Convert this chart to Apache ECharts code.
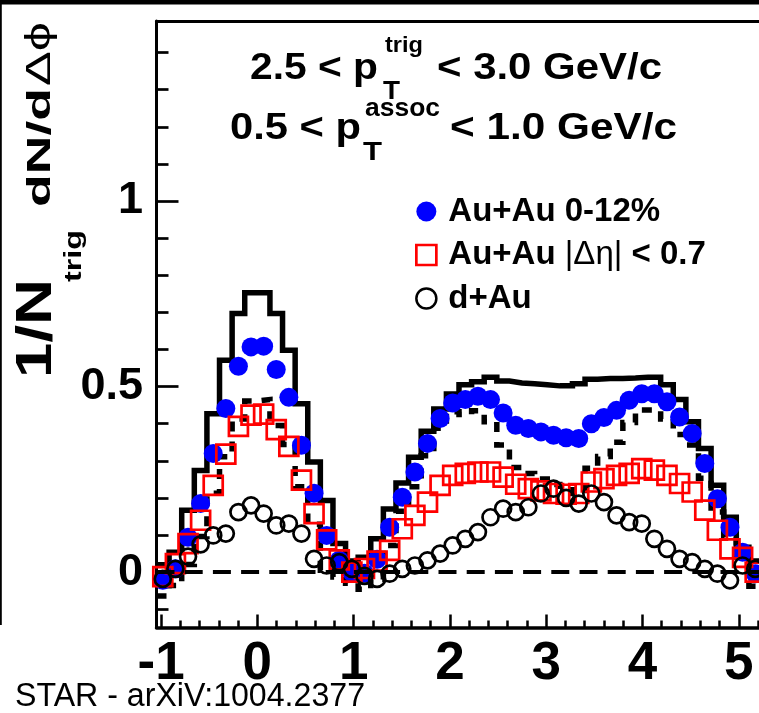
<!DOCTYPE html>
<html>
<head>
<meta charset="utf-8">
<title>Di-hadron correlations, 2.5 &lt; pT(trig) &lt; 3.0 GeV/c</title>
<script src="https://cdn.jsdelivr.net/npm/echarts@6/dist/echarts.min.js"></script>
<style>
  html, body { margin: 0; padding: 0; background: #fff; }
  #chart { width: 759px; height: 713px; }
</style>
</head>
<body>
<div id="chart"></div>
<script>
// Δφ binning: 48 bins covering [-π/3, 5π/3)
const PHI_MIN = -Math.PI / 3;
const PHI_MAX = 5 * Math.PI / 3;
const N_BINS = 48;
const binWidth = (PHI_MAX - PHI_MIN) / N_BINS;
const binCenters = Array.from({ length: N_BINS }, (_, i) => PHI_MIN + (i + 0.5) * binWidth);
const binEdges = Array.from({ length: N_BINS + 1 }, (_, i) => PHI_MIN + i * binWidth);

const seriesNames = ['Au+Au 0-12%', 'Au+Au |Δη| < 0.7', 'd+Au'];

// Au+Au 0-12%, full Δη acceptance
const auAuCentral = [
  -0.022, 0.009, 0.094, 0.185, 0.320, 0.441, 0.555, 0.607, 0.609, 0.546, 0.471, 0.342, 0.213, 0.099, 0.032, 0.000,
  -0.003, 0.035, 0.121, 0.202, 0.270, 0.347, 0.414, 0.456, 0.465, 0.474, 0.465, 0.429, 0.396, 0.387, 0.378, 0.369,
  0.362, 0.360, 0.400, 0.417, 0.436, 0.463, 0.481, 0.481, 0.459, 0.418, 0.374, 0.293, 0.198, 0.121, 0.054, -0.004
];

// Au+Au 0-12%, |Δη| < 0.7
const auAuNearEta = [
  -0.012, 0.023, 0.077, 0.140, 0.234, 0.318, 0.393, 0.423, 0.426, 0.384, 0.339, 0.248, 0.158, 0.087, 0.033, 0.000,
  0.010, 0.030, 0.059, 0.117, 0.153, 0.189, 0.234, 0.261, 0.266, 0.270, 0.270, 0.256, 0.237, 0.225, 0.219, 0.212,
  0.210, 0.212, 0.243, 0.252, 0.261, 0.266, 0.279, 0.275, 0.261, 0.239, 0.216, 0.167, 0.113, 0.063, 0.040, 0.000
];

// d+Au reference
const dAu = [
  -0.018, 0.009, 0.042, 0.075, 0.099, 0.104, 0.162, 0.180, 0.158, 0.126, 0.131, 0.104, 0.036, 0.018, 0.027, 0.009,
  -0.010, -0.018, -0.004, 0.009, 0.018, 0.032, 0.050, 0.072, 0.090, 0.108, 0.148, 0.171, 0.162, 0.175, 0.212, 0.225,
  0.200, 0.185, 0.212, 0.189, 0.153, 0.135, 0.131, 0.090, 0.063, 0.036, 0.027, 0.009, -0.004, -0.022, 0.018, 0.009
];

// Systematic band of the Au+Au 0-12% points (flow subtraction): upper and lower edges
const sysUpper = [
  0.020, 0.054, 0.167, 0.274, 0.427, 0.571, 0.697, 0.753, 0.753, 0.697, 0.598, 0.454, 0.297, 0.193, 0.077, 0.030,
  0.040, 0.090, 0.170, 0.240, 0.310, 0.380, 0.440, 0.480, 0.505, 0.513, 0.525, 0.515, 0.510, 0.508, 0.505, 0.502,
  0.502, 0.508, 0.520, 0.522, 0.522, 0.523, 0.525, 0.525, 0.505, 0.465, 0.405, 0.333, 0.234, 0.148, 0.067, 0.030
];
const sysLower = [
  -0.064, -0.036, 0.021, 0.096, 0.213, 0.311, 0.413, 0.461, 0.465, 0.395, 0.344, 0.230, 0.129, 0.005, -0.013, -0.030,
  -0.046, -0.020, 0.072, 0.164, 0.230, 0.314, 0.388, 0.432, 0.425, 0.435, 0.405, 0.343, 0.282, 0.266, 0.251, 0.236,
  0.222, 0.212, 0.280, 0.312, 0.350, 0.403, 0.437, 0.437, 0.413, 0.371, 0.343, 0.253, 0.162, 0.094, 0.041, -0.038
];

// Axis ticks
const xMajorTicks = [-1, 0, 1, 2, 3, 4, 5];
const xMinorTicks = [-0.8, -0.6, -0.4, -0.2, 0.2, 0.4, 0.6, 0.8, 1.2, 1.4, 1.6, 1.8, 2.2, 2.4, 2.6, 2.8,
  3.2, 3.4, 3.6, 3.8, 4.2, 4.4, 4.6, 4.8, 5.2];
const yMajorTicks = [0, 0.5, 1];
const yMinorTicks = [-0.1, 0.1, 0.2, 0.3, 0.4, 0.6, 0.7, 0.8, 0.9, 1.1, 1.2, 1.3, 1.4];
const Y_MIN = -0.149;
const Y_MAX = 1.485;

// Step outline: one point per left bin edge, last value repeated at the right edge
const stepPoints = vals => binEdges.map((e, i) => [e, vals[Math.min(i, N_BINS - 1)]]);
const points = vals => binCenters.map((x, i) => [x, vals[i]]);

// Text helper: stretches a string along its direction to a given length
const measureCtx = document.createElement('canvas').getContext('2d');
const SANS = '"Liberation Sans", Arial, Helvetica, sans-serif';
function fitText(text, x, y, size, length, o = {}) {
  const font = `${o.weight || 'bold'} ${size}px ${o.family || SANS}`;
  measureCtx.font = font;
  const w = measureCtx.measureText(text).width;
  return {
    type: 'text', x, y, silent: true,
    rotation: o.rotation || 0,
    scaleX: length ? length / w : 1,
    style: {
      text, font, fill: '#000',
      align: 'left', verticalAlign: 'middle',
      textAlign: 'left', textVerticalAlign: 'middle'
    }
  };
}

const UP = Math.PI / 2;
const graphics = [
  // page border
  { type: 'rect', silent: true, shape: { x: 0, y: 0, width: 759, height: 4.5 }, style: { fill: '#000' } },
  { type: 'rect', silent: true, shape: { x: 0, y: 0, width: 1.8, height: 625 }, style: { fill: '#000' } },
  // kinematic selection
  fitText('2.5 < p', 250, 68.5, 37, 128),
  fitText('trig', 385, 45.5, 22, 38),
  fitText('T', 383, 92, 25, 17),
  fitText('< 3.0 GeV/c', 437, 68.5, 37, 225),
  fitText('0.5 < p', 230, 128.3, 37, 131),
  fitText('assoc', 365, 109.5, 25, 75),
  fitText('T', 363, 153, 25, 19),
  fitText('< 1.0 GeV/c', 450, 128.3, 37, 227),
  // y-axis title, reading upwards
  fitText('1/N', 37, 378, 50, 99, { rotation: UP }),
  fitText('trig', 74, 282, 24, 52, { rotation: UP }),
  fitText('dN/d', 41, 207, 34, 119, { rotation: UP }),
  fitText('Δϕ', 40, 86, 35, 64, { rotation: UP, weight: 'normal' }),
  // source
  fitText('STAR - arXiV:1004.2377', 15, 696.5, 34, 350, { weight: 'normal' })
];

const black = '#000';
const option = {
  animation: false,
  backgroundColor: '#fff',
  grid: { left: 156.5, top: 21, width: 605, height: 606.5, containLabel: false, outerBoundsMode: 'none' },
  xAxis: [
    {
      type: 'value', min: PHI_MIN, max: PHI_MAX, position: 'bottom',
      axisLine: { onZero: false, lineStyle: { color: black, width: 3.5 } },
      axisTick: { inside: true, length: 13, customValues: xMajorTicks, lineStyle: { color: black, width: 2.5 } },
      axisLabel: {
        customValues: xMajorTicks, margin: 10, color: black,
        fontFamily: '"Liberation Sans Narrow", "Liberation Sans", Arial, sans-serif',
        fontWeight: 'bold', fontSize: 53
      },
      splitLine: { show: false }
    },
    {
      type: 'value', min: PHI_MIN, max: PHI_MAX, position: 'bottom',
      axisLine: { show: false, onZero: false },
      axisTick: { inside: true, length: 7, customValues: xMinorTicks, lineStyle: { color: black, width: 2.5 } },
      axisLabel: { show: false },
      splitLine: { show: false }
    },
    {
      type: 'value', min: PHI_MIN, max: PHI_MAX, position: 'top',
      axisLine: { onZero: false, lineStyle: { color: black, width: 3 } },
      axisTick: { show: false }, axisLabel: { show: false }, splitLine: { show: false }
    }
  ],
  yAxis: [
    {
      type: 'value', min: Y_MIN, max: Y_MAX, position: 'left',
      axisLine: { onZero: false, lineStyle: { color: black, width: 3 } },
      axisTick: { inside: true, length: 22, customValues: yMajorTicks, lineStyle: { color: black, width: 2.7 } },
      axisLabel: {
        customValues: yMajorTicks, margin: 13.5, color: black,
        fontFamily: SANS, fontWeight: 'bold', fontSize: 45, padding: [6, 0, 0, 0]
      },
      splitLine: { show: false }
    },
    {
      type: 'value', min: Y_MIN, max: Y_MAX, position: 'left',
      axisLine: { show: false, onZero: false },
      axisTick: { inside: true, length: 12, customValues: yMinorTicks, lineStyle: { color: black, width: 2.7 } },
      axisLabel: { show: false },
      splitLine: { show: false }
    }
  ],
  legend: {
    orient: 'vertical', left: 415, top: 195, padding: 0,
    itemWidth: 20, itemHeight: 20, itemGap: 10.5,
    selectedMode: false,
    data: [
      { name: seriesNames[0], itemStyle: { borderWidth: 0, opacity: 1 } },
      { name: seriesNames[1], itemStyle: { borderWidth: 2.7, opacity: 1 } },
      { name: seriesNames[2], itemStyle: { borderWidth: 2.5, opacity: 1 } }
    ],
    formatter: name => name === seriesNames[1] ? 'Au+Au {g||Δη|} < 0.7' : name,
    textStyle: {
      fontFamily: SANS, fontWeight: 'bold', fontSize: 33, color: black, lineHeight: 32,
      padding: [0, 0, 0, 7],
      rich: { g: { fontFamily: SANS, fontWeight: 'normal', fontSize: 33, lineHeight: 32, color: black } }
    }
  },
  graphic: graphics,
  series: [
    {
      name: 'sys-upper', type: 'line', data: stepPoints(sysUpper), step: 'end',
      symbol: 'none', showSymbol: false, silent: true, z: 2,
      lineStyle: { color: black, width: 5.5, join: 'miter', cap: 'butt' },
      markLine: {
        silent: true, symbol: ['none', 'none'], label: { show: false },
        lineStyle: { color: black, width: 4, type: [18, 10.2] },
        emphasis: { disabled: true },
        data: [{ yAxis: 0 }]
      }
    },
    {
      name: 'sys-lower', type: 'line', data: stepPoints(sysLower), step: 'end',
      symbol: 'none', showSymbol: false, silent: true, z: 2,
      lineStyle: { color: black, width: 5.5, type: [10, 10], join: 'miter', cap: 'butt' }
    },
    {
      name: seriesNames[0], type: 'scatter', data: points(auAuCentral), z: 3,
      symbol: 'circle', symbolSize: 19,
      itemStyle: { color: '#0000ff', opacity: 1 }, emphasis: { disabled: true }
    },
    {
      name: seriesNames[1], type: 'scatter', data: points(auAuNearEta), z: 4,
      symbol: 'rect', symbolSize: 19,
      itemStyle: { color: 'rgba(255,255,255,0)', borderColor: '#ff0000', borderWidth: 2.7, opacity: 1 },
      emphasis: { disabled: true }
    },
    {
      name: seriesNames[2], type: 'scatter', data: points(dAu), z: 5,
      symbol: 'circle', symbolSize: 16,
      itemStyle: { color: 'rgba(255,255,255,0)', borderColor: black, borderWidth: 2.7, opacity: 1 },
      emphasis: { disabled: true }
    }
  ]
};

const chart = echarts.init(document.getElementById('chart'), null, { renderer: 'canvas' });
chart.setOption(option);
</script>
</body>
</html>
